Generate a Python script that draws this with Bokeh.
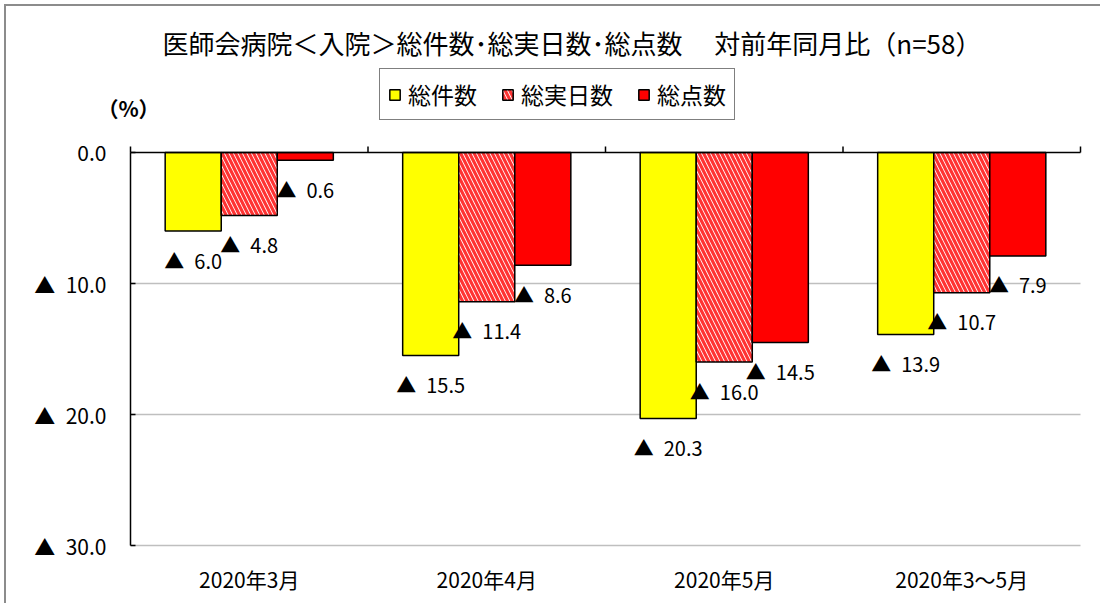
import math
from bokeh.plotting import figure
from bokeh.models import Range1d, Legend, LegendItem, Label, ColumnDataSource
from bokeh.core.properties import value
from bokeh.embed import file_html
from bokeh.resources import INLINE

# ---- data (declines vs. same month of previous year, %) ----
categories = ["2020年3月", "2020年4月", "2020年5月", "2020年3〜5月"]
series_names = ["総件数", "総実日数", "総点数"]
total_cases = [6.0, 15.5, 20.3, 13.9]
total_days = [4.8, 11.4, 16.0, 10.7]
total_points = [0.6, 8.6, 14.5, 7.9]
y_ticks = [0, 10, 20, 30]
y_tick_labels = ["0.0", "▲\u2002" + "10.0", "▲\u2002" + "20.0", "▲\u2002" + "30.0"]
title_text = "医師会病院＜入院＞総件数･総実日数･総点数\u3000 対前年同月比（n=58）"
unit_text = "（%）"

JP = "Noto Sans CJK JP"

# ---- layout (pixels of the page) ----
CANVAS_L, CANVAS_T = 6, 6
W, H = 1102 - CANVAS_L, 605 - CANVAS_T
PLOT_L, PLOT_R, PLOT_T, PLOT_B = 130, 1080, 152, 545
n_cat = len(categories)
y_max = y_ticks[-1]
ppx = (PLOT_R - PLOT_L) / n_cat          # pixels per category
ppy = (PLOT_B - PLOT_T) / y_max          # pixels per percent

def xd(px):
    return (px - PLOT_L) / ppx

def yd(py):
    return (py - PLOT_T) / ppy

p = figure(width=W, height=H, output_backend="svg", toolbar_location=None,
           x_range=Range1d(xd(CANVAS_L), xd(CANVAS_L + W)),
           y_range=Range1d(yd(CANVAS_T + H), yd(CANVAS_T)),
           x_axis_type=None, y_axis_type=None,
           min_border=0, min_border_left=0, min_border_right=0,
           min_border_top=0, min_border_bottom=0)
p.styles = {"border-left": "2px solid #8c8c8c", "border-top": "2px solid #8c8c8c",
            "margin-left": "4px", "margin-top": "4px"}
p.outline_line_color = None
p.grid.visible = False
p.background_fill_color = "white"
p.border_fill_color = "white"

bar_w = 0.236
centers = [i + 0.5 for i in range(n_cat)]
bounds = list(range(n_cat + 1))

# gridlines
grid_src = ColumnDataSource(dict(y=y_ticks[1:], x0=[0] * 3, x1=[n_cat] * 3))
p.segment(x0="x0", x1="x1", y0="y", y1="y", source=grid_src,
          line_color="#BFBFBF", line_width=1.5)

# bars + data labels
series = [total_cases, total_days, total_points]
styles = [
    dict(fill_color="#FFFF00"),
    dict(fill_color="white", hatch_pattern="left_diagonal_line", hatch_color="#FF0000",
         hatch_scale=9, hatch_weight=3.2, hatch_alpha=0.8),
    dict(fill_color="#FF0000"),
]
offsets = [-bar_w, 0.0, bar_w]
renderers = []
for vals, st, off in zip(series, styles, offsets):
    xs = [c + off for c in centers]
    src = ColumnDataSource(dict(
        x=xs, top=vals, label=["▲\u2002%.1f" % v for v in vals]))
    r = p.vbar(x="x", top="top", bottom=0, width=bar_w, source=src,
               line_color="black", line_width=1.5, **st)
    renderers.append(r)
    p.text(x="x", y="top", text="label", source=src, y_offset=29,
           text_font=value(JP), text_font_size="20px", text_color="black",
           text_align="center", text_baseline="middle")

# zero line (top axis) with ticks at category boundaries
p.segment(x0=0, x1=n_cat, y0=0, y1=0, line_color="black", line_width=1.5)
p.ray(x=bounds, y=[0] * len(bounds), length=6, length_units="screen",
      angle=math.pi / 2, line_color="black", line_width=1.5)

# left axis
p.segment(x0=0, x1=0, y0=0, y1=y_max, line_color="black", line_width=1.5)
p.ray(x=[0] * len(y_ticks), y=y_ticks, length=5, length_units="screen",
      angle=0, line_color="black", line_width=1.5)
p.text(x=[0] * len(y_ticks), y=y_ticks, text=y_tick_labels, x_offset=-24,
       text_font=value(JP), text_font_size="21px", text_color="black",
       text_align="right", text_baseline="middle")

# category labels
p.text(x=centers, y=[y_max] * n_cat, text=categories, y_offset=33,
       text_font=value(JP), text_font_size="21px", text_color="black",
       text_align="center", text_baseline="middle")

# legend
legend = Legend(items=[LegendItem(label=n, renderers=[r]) for n, r in zip(series_names, renderers)],
                orientation="horizontal", location=(379 - CANVAS_L, CANVAS_T + H - 120))
legend.label_text_font = JP
legend.label_text_font_size = "23px"
legend.label_text_color = "black"
legend.glyph_width = 13
legend.glyph_height = 13
legend.label_standoff = 7
legend.spacing = 24
legend.padding = 8
legend.margin = 0
legend.border_line_color = "black"
legend.border_line_width = 1.2
legend.background_fill_alpha = 1
p.add_layout(legend, "center")

# title and unit
p.add_layout(Label(x=xd(162), y=yd(42), text=title_text, text_font=JP,
                   text_font_size="26px", text_color="black",
                   text_align="left", text_baseline="middle"))
p.add_layout(Label(x=xd(128), y=yd(107), text=unit_text, text_font=JP,
                   text_font_size="21px", text_font_style="bold", text_color="black",
                   text_align="center", text_baseline="middle"))

open("out.html", "w").write(file_html(p, INLINE))
